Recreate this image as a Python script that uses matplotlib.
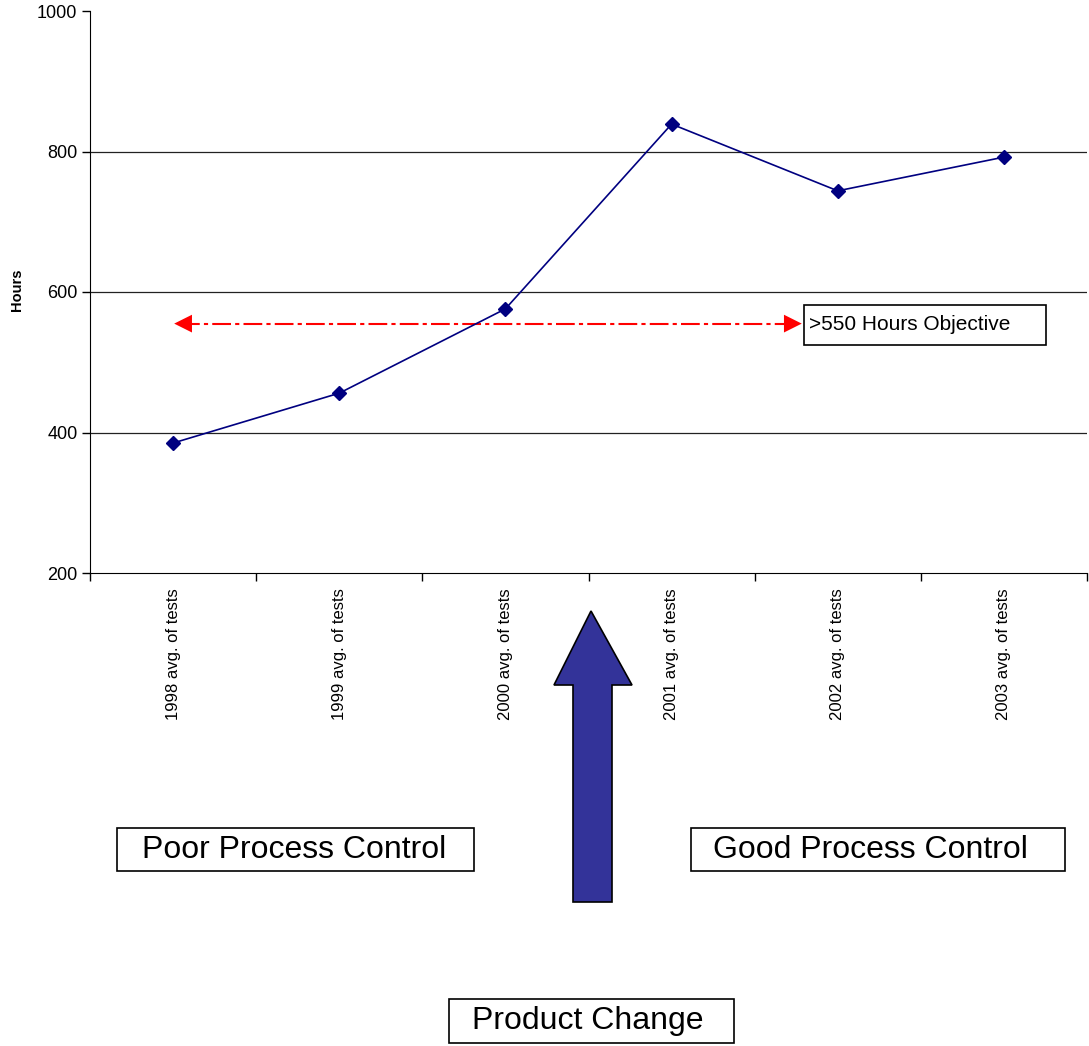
import matplotlib.pyplot as plt
from matplotlib.patches import Rectangle, Polygon
import numpy as np

plt.rcParams['font.family'] = ['Liberation Sans', 'DejaVu Sans']

# Data
categories = ["1998 avg. of tests", "1999 avg. of tests", "2000 avg. of tests",
              "2001 avg. of tests", "2002 avg. of tests", "2003 avg. of tests"]
hours = [385, 456, 576, 839, 744, 792]
objective = 555
objective_label = ">550 Hours Objective"

W, H = 1089, 1046


def px(x, y):
    """pixel position (from top-left) to figure fraction"""
    return x / W, 1 - y / H


fig = plt.figure(figsize=(W / 100, H / 100), dpi=100)
left, top = px(90, 11)
right, bottom = px(1087, 573)
ax = fig.add_axes([left, bottom, right - left, top - bottom])

x = np.arange(len(categories))
ax.plot(x, hours, color="#000080", lw=1.2, marker="D", markersize=7,
        markerfacecolor="#000080", markeredgecolor="#000080", zorder=3)

ax.set_xlim(-0.5, len(categories) - 0.5)
ax.set_ylim(200, 1000)
ax.set_yticks([200, 400, 600, 800, 1000])
ax.tick_params(axis="y", labelsize=13, length=6, direction="out", width=1, pad=3)
for g in [400, 600, 800]:
    ax.axhline(g, color="#222222", lw=0.9, zorder=1)

ax.set_xticks(x)
ax.set_xticklabels(categories, rotation=90, fontsize=12, va="top")
ax.set_xticks(np.arange(len(categories) + 1) - 0.5, minor=True)
ax.tick_params(axis="x", which="major", length=0, pad=11)
ax.tick_params(axis="x", which="minor", length=6, width=1, direction="out")
for s in ["top", "right"]:
    ax.spines[s].set_visible(False)
fig.text(*px(17, 290), "Hours", fontsize=10.5, fontweight="bold",
         rotation=90, ha="center", va="center")

# objective line with arrowheads
x_end = 3.8
ax.plot([0.05, x_end - 0.05], [objective, objective], color="red", lw=1.5,
        dashes=(9, 2, 2, 2), zorder=2)
ax.annotate("", xy=(-0.01, objective), xytext=(0.3, objective),
            arrowprops=dict(arrowstyle="-|>", color="red", lw=0, mutation_scale=32))
ax.annotate("", xy=(x_end, objective), xytext=(x_end - 0.3, objective),
            arrowprops=dict(arrowstyle="-|>", color="red", lw=0, mutation_scale=32))

# text boxes
def boxed(x0, y0, x1, y1, text, size, tx=None):
    bx, by = px(x0, y1)
    fig.patches.append(Rectangle((bx, by), (x1 - x0) / W, (y1 - y0) / H,
                                 transform=fig.transFigure, fill=False,
                                 edgecolor="black", lw=1.2))
    if tx is None:
        fig.text(*px((x0 + x1) / 2, (y0 + y1) / 2), text, fontsize=size,
                 ha="center", va="center")
    else:
        fig.text(*px(tx, (y0 + y1) / 2), text, fontsize=size,
                 ha="left", va="center")


boxed(804, 305, 1046, 345, objective_label, 15, tx=809)
boxed(117, 828, 474, 871, "Poor Process Control", 23, tx=142)
boxed(691, 828, 1065, 871, "Good Process Control", 23, tx=713)
boxed(449, 999, 734, 1043, "Product Change", 23, tx=472)

# big blue arrow
pts = [px(591, 611), px(632, 685), px(612, 685), px(612, 902),
       px(573, 902), px(573, 685), px(554, 685)]
fig.patches.append(Polygon(pts, closed=True, transform=fig.transFigure,
                           facecolor="#333399", edgecolor="black", lw=1.2))

fig.savefig("out.png", dpi=100)
